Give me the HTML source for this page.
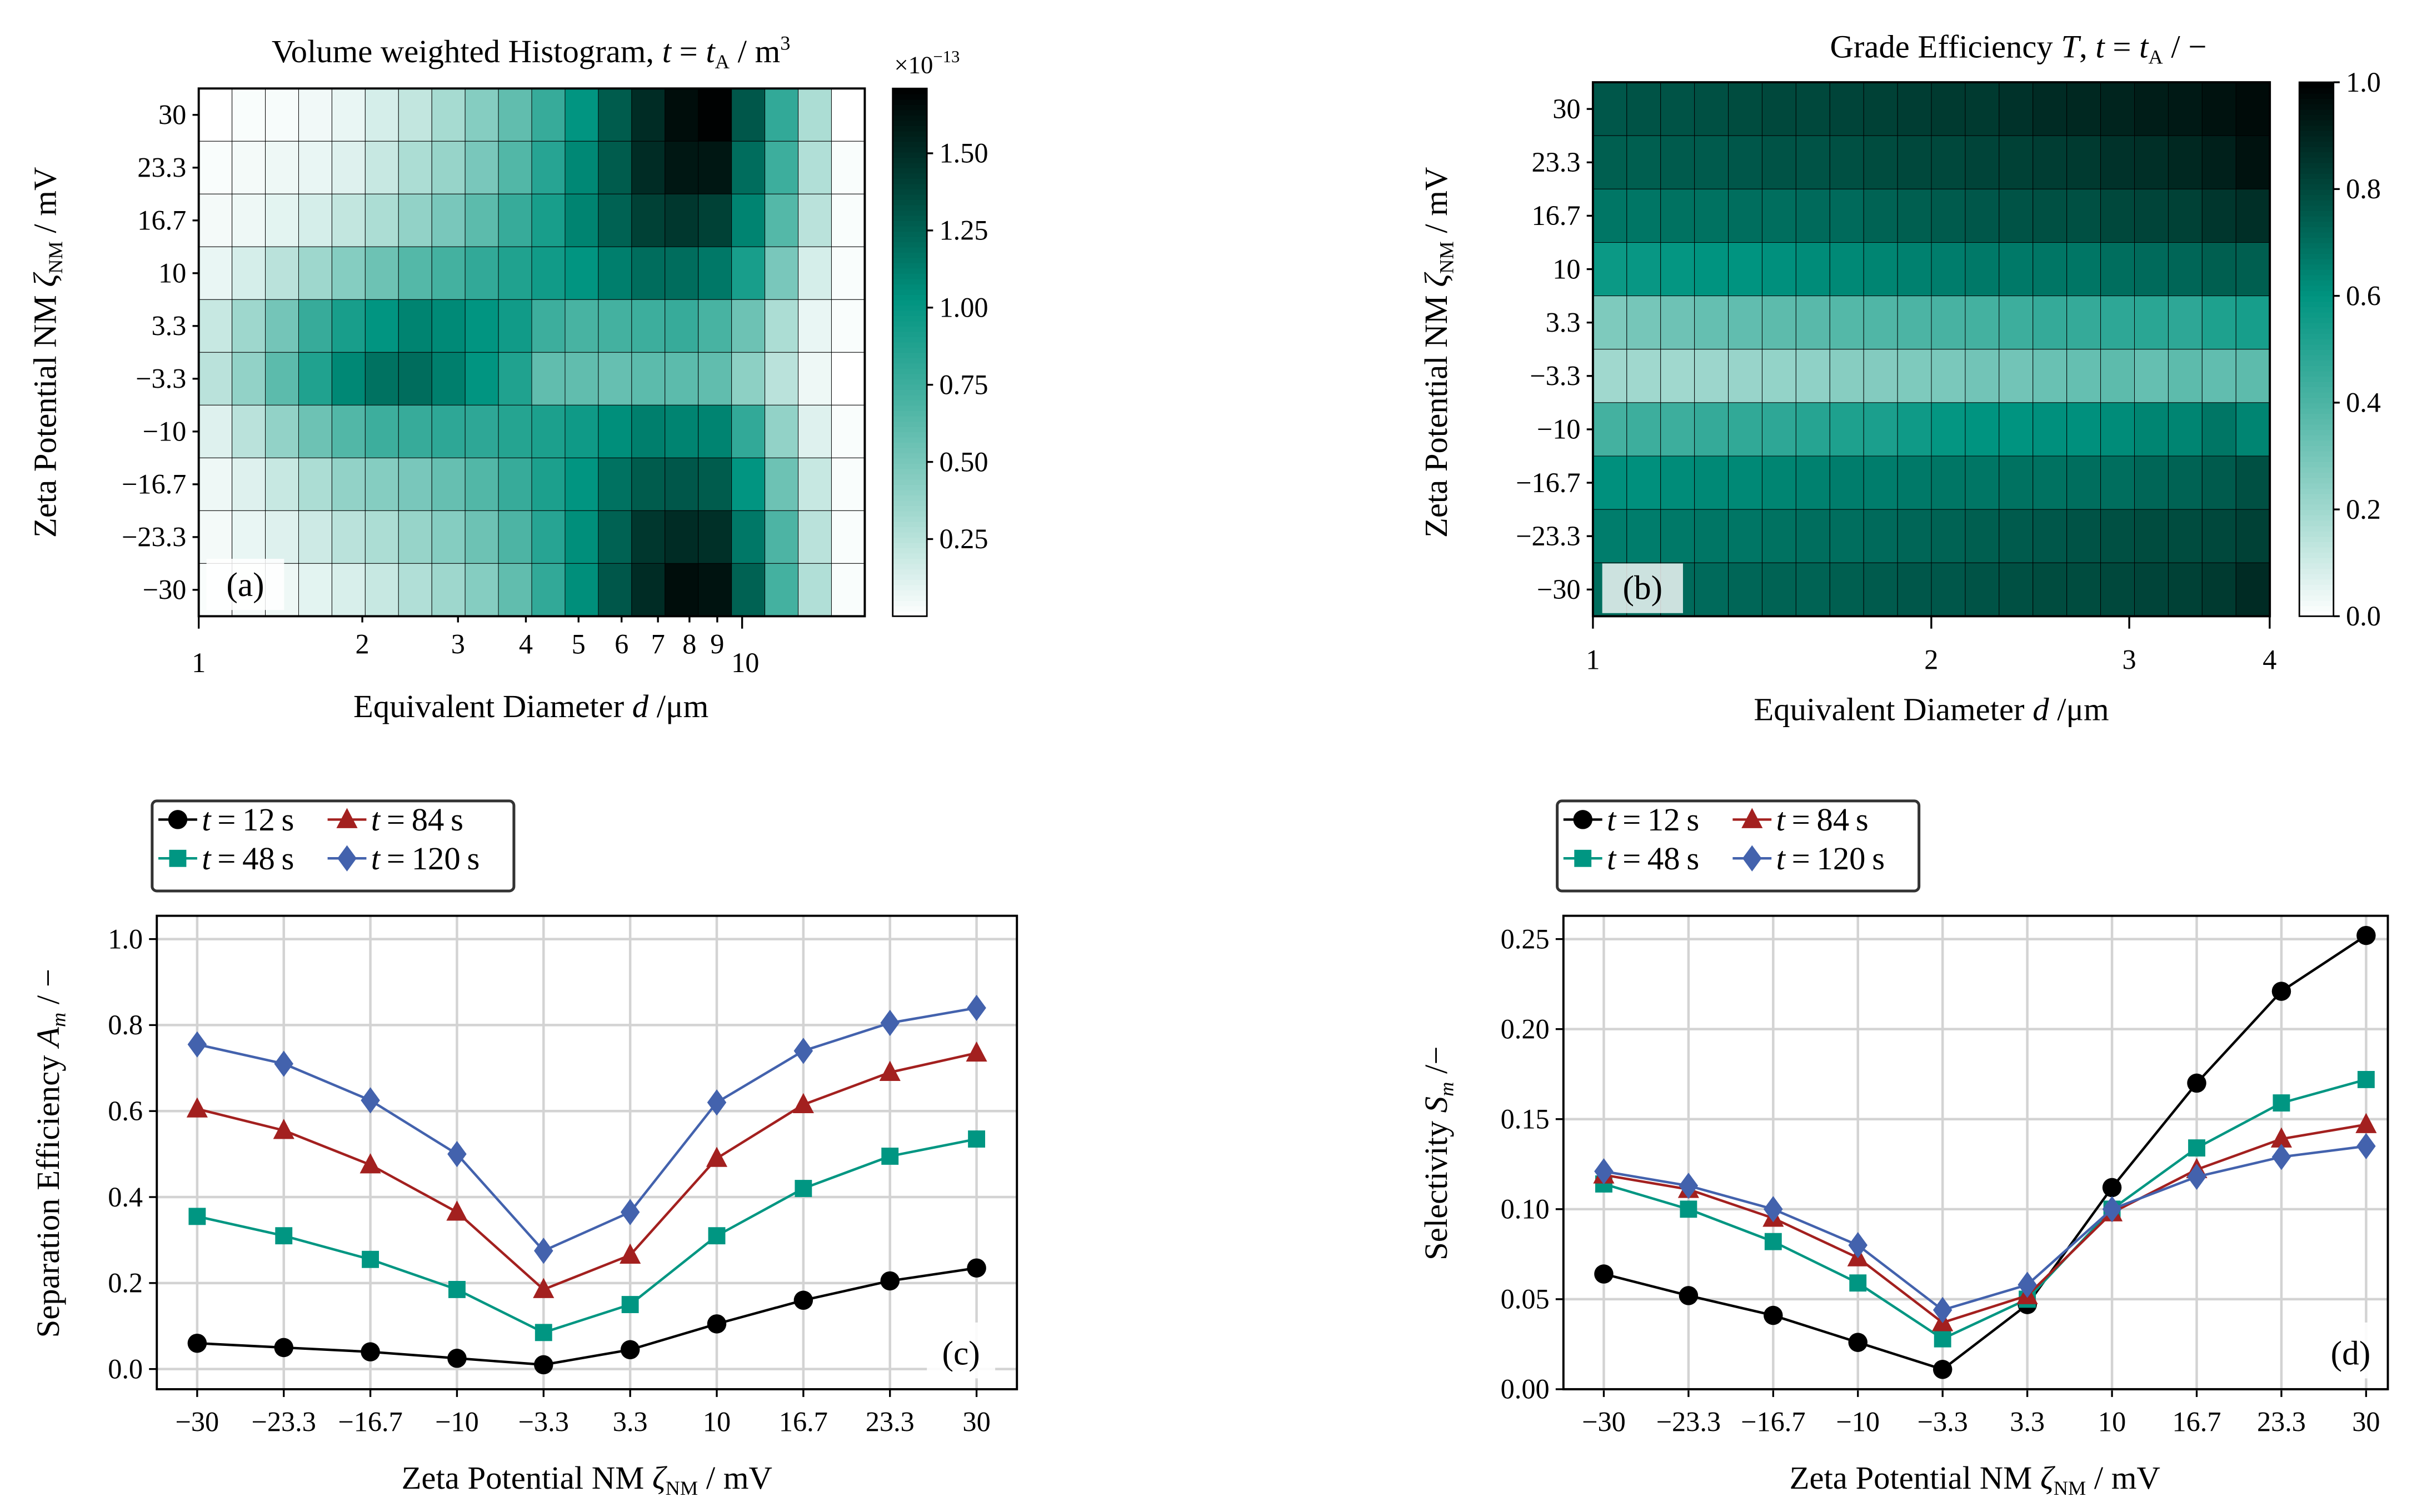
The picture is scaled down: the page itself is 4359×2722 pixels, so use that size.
<!DOCTYPE html>
<html><head><meta charset="utf-8"><style>
html,body{margin:0;padding:0;background:#fff;}
svg{display:block;font-family:"Liberation Serif",serif;}
</style></head><body>
<svg id="fig" xmlns="http://www.w3.org/2000/svg" width="4359" height="2722" viewBox="0 0 1560 974.1" preserveAspectRatio="none"></svg>
<script>
// ---------- DATA ----------
const zetaLabels = ["30","23.3","16.7","10","3.3","\u22123.3","\u221210","\u221216.7","\u221223.3","\u221230"];
const histA = [
[0,0.02,0.03,0.05,0.08,0.15,0.22,0.32,0.45,0.6,0.78,1.02,1.28,1.5,1.65,1.7,1.3,0.8,0.3,0],
[0.02,0.04,0.06,0.08,0.12,0.2,0.3,0.38,0.5,0.66,0.85,1.08,1.28,1.5,1.6,1.6,1.2,0.75,0.28,0.02],
[0.04,0.06,0.1,0.15,0.22,0.3,0.4,0.5,0.62,0.78,0.92,1.1,1.25,1.4,1.45,1.4,1.1,0.65,0.25,0.02],
[0.08,0.15,0.25,0.35,0.45,0.55,0.65,0.72,0.8,0.88,0.95,1.02,1.12,1.2,1.2,1.15,0.92,0.5,0.15,0.02],
[0.2,0.35,0.52,0.78,0.92,1.02,1.1,1.07,1.02,0.95,0.75,0.7,0.72,0.75,0.78,0.7,0.55,0.3,0.08,0.02],
[0.25,0.4,0.62,0.88,1.08,1.18,1.2,1.12,1.02,0.88,0.6,0.6,0.58,0.62,0.62,0.6,0.42,0.25,0.06,0],
[0.12,0.25,0.4,0.55,0.66,0.75,0.78,0.82,0.82,0.86,0.9,0.96,1.05,1.12,1.1,1.1,0.8,0.4,0.12,0.02],
[0.06,0.12,0.2,0.3,0.4,0.45,0.5,0.58,0.66,0.78,0.9,1.02,1.18,1.28,1.3,1.28,1.02,0.55,0.2,0.02],
[0.04,0.08,0.12,0.18,0.25,0.3,0.38,0.45,0.55,0.68,0.85,1.05,1.25,1.45,1.5,1.48,1.15,0.68,0.25,0.02],
[0.02,0.04,0.06,0.1,0.14,0.2,0.28,0.35,0.45,0.6,0.8,1.05,1.3,1.5,1.65,1.62,1.25,0.72,0.28,0.02]];
const gradeB = [
[0.76,0.77,0.77,0.78,0.79,0.8,0.8,0.81,0.82,0.83,0.84,0.84,0.86,0.88,0.89,0.9,0.92,0.93,0.95,0.97],
[0.74,0.74,0.75,0.75,0.76,0.77,0.77,0.78,0.79,0.8,0.8,0.81,0.82,0.83,0.84,0.86,0.87,0.89,0.91,0.95],
[0.68,0.68,0.69,0.69,0.7,0.7,0.71,0.71,0.73,0.74,0.75,0.76,0.77,0.78,0.78,0.8,0.81,0.82,0.85,0.87],
[0.57,0.58,0.59,0.6,0.6,0.61,0.62,0.63,0.64,0.65,0.66,0.67,0.67,0.68,0.68,0.7,0.71,0.72,0.74,0.74],
[0.28,0.3,0.32,0.34,0.35,0.36,0.37,0.38,0.39,0.4,0.41,0.42,0.44,0.46,0.46,0.48,0.49,0.48,0.52,0.54],
[0.2,0.2,0.2,0.21,0.22,0.23,0.24,0.26,0.27,0.28,0.29,0.31,0.31,0.33,0.34,0.36,0.34,0.36,0.35,0.36],
[0.42,0.44,0.44,0.46,0.47,0.48,0.5,0.52,0.53,0.56,0.59,0.6,0.6,0.61,0.61,0.62,0.64,0.64,0.68,0.64],
[0.61,0.61,0.62,0.63,0.63,0.64,0.65,0.66,0.66,0.67,0.68,0.68,0.69,0.69,0.7,0.7,0.72,0.73,0.75,0.78],
[0.66,0.66,0.67,0.68,0.68,0.69,0.7,0.7,0.71,0.72,0.73,0.74,0.75,0.76,0.77,0.78,0.79,0.79,0.8,0.82],
[0.7,0.7,0.71,0.71,0.72,0.73,0.73,0.74,0.75,0.76,0.76,0.77,0.78,0.79,0.79,0.8,0.81,0.82,0.84,0.88]];
const cbTicksA = [0.25,0.5,0.75,1.0,1.25,1.5];
const cbTicksB = [0,0.2,0.4,0.6,0.8,1.0];
const xCats = ["\u221230","\u221223.3","\u221216.7","\u221210","\u22123.3","3.3","10","16.7","23.3","30"];
const sepT12 = [0.06,0.05,0.04,0.025,0.01,0.045,0.105,0.16,0.205,0.235];
const sepT48 = [0.355,0.31,0.255,0.185,0.085,0.15,0.31,0.42,0.495,0.535];
const sepT84 = [0.605,0.555,0.475,0.365,0.185,0.265,0.49,0.615,0.69,0.735];
const sepT120 = [0.755,0.71,0.625,0.5,0.275,0.365,0.62,0.74,0.805,0.84];
const selT12 = [0.064,0.052,0.041,0.026,0.011,0.047,0.112,0.17,0.221,0.252];
const selT48 = [0.114,0.1,0.082,0.059,0.028,0.05,0.1,0.134,0.159,0.172];
const selT84 = [0.119,0.111,0.095,0.073,0.037,0.052,0.098,0.122,0.139,0.147];
const selT120 = [0.121,0.113,0.1,0.08,0.044,0.058,0.1,0.118,0.129,0.135];
const sepTicks = [0,0.2,0.4,0.6,0.8,1.0];
const selTicks = [0,0.05,0.1,0.15,0.2,0.25];

// ---------- HELPERS ----------
const NS="http://www.w3.org/2000/svg", svg=document.getElementById('fig');
function el(tag,attrs,parent,text){const e=document.createElementNS(NS,tag);for(const k in attrs)e.setAttribute(k,attrs[k]);if(text!==undefined)e.textContent=text;(parent||svg).appendChild(e);return e;}
const stops=[[0,[255,255,255]],[0.2,[160,216,206]],[0.4,[76,180,164]],[0.6,[0,148,128]],[0.8,[0,72,60]],[1,[0,0,0]]];
function cmap(t){t=Math.max(0,Math.min(1,t));for(let i=1;i<stops.length;i++){if(t<=stops[i][0]){const a=stops[i-1],b=stops[i],f=(t-a[0])/(b[0]-a[0]);return 'rgb('+a[1].map((c,j)=>Math.round(c+(b[1][j]-c)*f)).join(',')+')';}}return 'rgb(0,0,0)';}
function txt(x,y,s,size,anchor,parent,name){const t=el('text',{x:x,y:y,'font-size':size,'text-anchor':anchor||'middle'},parent,s);return t;}

function heatmap(data,vmax,L,R,T,B,name){
  const g=el('g',{});
  const nr=data.length,nc=data[0].length,cw=(R-L)/nc,rh=(B-T)/nr;
  data.forEach((row,i)=>row.forEach((v,j)=>{
    const r=el('rect',{x:L+j*cw,y:T+i*rh,width:cw,height:rh,fill:cmap(v/vmax),stroke:'#000','stroke-width':0.35},g);
    
    
  }));
  el('rect',{x:L,y:T,width:R-L,height:B-T,fill:'none',stroke:'#000','stroke-width':1.4},g);
  zetaLabels.forEach((s,i)=>{const y=T+(i+0.5)*rh;el('line',{x1:L-4,x2:L,y1:y,y2:y,stroke:'#000','stroke-width':1.2},g);txt(L-8,y+6,s,18,'end',g,'y-tick-label');});
  return g;
}
function colorbar(L,T,W,H,vmax,ticks,fmt,name){
  const g=el('g',{});
  const n=100;for(let i=0;i<n;i++){el('rect',{x:L,y:T+H-(i+1)*H/n,width:W,height:H/n+0.4,fill:cmap((i+0.5)/n)},g);}
  el('rect',{x:L,y:T,width:W,height:H,fill:'none',stroke:'#000','stroke-width':1},g);
  ticks.forEach(v=>{const y=T+H-v/vmax*H;el('line',{x1:L+W,x2:L+W+4,y1:y,y2:y,stroke:'#000','stroke-width':1.2},g);txt(L+W+8,y+6,fmt(v),18,'start',g,'colorbar-tick-label');});
}
function panelLabel(x,y,w,h,s,op,name){const r=el('rect',{x:x,y:y,width:w,height:h,fill:'#fff','fill-opacity':op});txt(x+w/2,y+h-9,s,22,'middle',svg,name);}

// ---------- PANEL A ----------
heatmap(histA,1.71,128,557,57,397,'heatmap-a');
{const L=128,dec=350;const g=el('g',{});
 [1,2,3,4,5,6,7,8,9,10].forEach(v=>{const x=L+Math.log10(v)*dec;const maj=(v==1||v==10);el('line',{x1:x,x2:x,y1:397,y2:397+(maj?8:4),stroke:'#000','stroke-width':1.2},g);txt(x+(v==10?2:0),maj?433:421,String(v),18,'middle',g,'x-tick-label');});}
colorbar(575,57,22,340,1.71,cbTicksA,v=>v.toFixed(2),'colorbar-a');
txt(576,47,'\u00d710',16,'start',svg,'colorbar-exponent');txt(601,40,'\u221213',11,'start',svg,'colorbar-exponent-power');
{const t=txt(342,40,'',21,'middle',svg,'title-a');t.innerHTML='Volume weighted Histogram, <tspan font-style="italic">t</tspan> = <tspan font-style="italic">t</tspan><tspan font-size="13" dy="4">A</tspan><tspan dy="-4"> / m</tspan><tspan font-size="13" dy="-8">3</tspan>';}
{const t=txt(342,462,'',21,'middle',svg,'x-axis-title-a');t.innerHTML='Equivalent Diameter <tspan font-style="italic">d</tspan> /μm';}
{const t=txt(0,0,'',21,'middle',svg,'y-axis-title-a');t.setAttribute('transform','translate(36,227) rotate(-90)');t.innerHTML='Zeta Potential NM <tspan font-style="italic">ζ</tspan><tspan font-size="13" dy="4">NM</tspan><tspan dy="-4"> / mV</tspan>';}
panelLabel(133,360,50,33,'(a)',0.85,'panel-label-a');

// ---------- PANEL B ----------
heatmap(gradeB,1.0,1026,1462,53,397,'heatmap-b');
{const L=1026,dec=724;const g=el('g',{});
 [1,2,3,4].forEach(v=>{const x=L+Math.log10(v)*dec;el('line',{x1:x,x2:x,y1:397,y2:405,stroke:'#000','stroke-width':1.2},g);txt(x,431,String(v),18,'middle',g,'x-tick-label');});}
colorbar(1481,53,22,344,1.0,cbTicksB,v=>v.toFixed(1),'colorbar-b');
{const t=txt(1300,37,'',21,'middle',svg,'title-b');t.innerHTML='Grade Efficiency <tspan font-style="italic">T</tspan>, <tspan font-style="italic">t</tspan> = <tspan font-style="italic">t</tspan><tspan font-size="13" dy="4">A</tspan><tspan dy="-4"> / −</tspan>';}
{const t=txt(1244,464,'',21,'middle',svg,'x-axis-title-b');t.innerHTML='Equivalent Diameter <tspan font-style="italic">d</tspan> /μm';}
{const t=txt(0,0,'',21,'middle',svg,'y-axis-title-b');t.setAttribute('transform','translate(932,227) rotate(-90)');t.innerHTML='Zeta Potential NM <tspan font-style="italic">ζ</tspan><tspan font-size="13" dy="4">NM</tspan><tspan dy="-4"> / mV</tspan>';}
panelLabel(1032,363,52,32,'(b)',0.8,'panel-label-b');

// ---------- LINE PANELS ----------
const seriesStyle=[{c:'#000000',m:'circle',n:'12'},{c:'#009682',m:'square',n:'48'},{c:'#a3201f',m:'triangle',n:'84'},{c:'#4362ad',m:'diamond',n:'120'}];
function marker(g,type,x,y,c,s){
  let e;
  if(type=='circle')e=el('circle',{cx:x,cy:y,r:s*0.95,fill:c},g);
  else if(type=='square')e=el('rect',{x:x-s*0.85,y:y-s*0.85,width:s*1.7,height:s*1.7,fill:c},g);
  else if(type=='triangle')e=el('polygon',{points:`${x},${y-s*1.15} ${x+s*1.05},${y+s*0.85} ${x-s*1.05},${y+s*0.85}`,fill:c},g);
  else e=el('polygon',{points:`${x},${y-s*1.3} ${x+s*0.95},${y} ${x},${y+s*1.3} ${x-s*0.95},${y}`,fill:c},g);
  
  
}
function linePanel(o){
  const {L,R,T,B,x0,x1,y0px,y1px,ymin,ymax,ticks,fmt,series,name}=o;
  const xs=i=>x0+(x1-x0)*i/(xCats.length-1), ys=v=>y0px+(v-ymin)/(ymax-ymin)*(y1px-y0px);
  const g=el('g',{});
  xCats.forEach((s,i)=>{const x=xs(i);el('line',{x1:x,x2:x,y1:T,y2:B,stroke:'#d3d3d3','stroke-width':1.6},g);el('line',{x1:x,x2:x,y1:B,y2:B+5,stroke:'#000','stroke-width':1.2},g);txt(x,B+27,s,18,'middle',g,'x-tick-label');});
  ticks.forEach(v=>{const y=ys(v);el('line',{x1:L,x2:R,y1:y,y2:y,stroke:'#d3d3d3','stroke-width':1.6},g);el('line',{x1:L-5,x2:L,y1:y,y2:y,stroke:'#000','stroke-width':1.2},g);txt(L-9,y+6,fmt(v),18,'end',g,'y-tick-label');});
  series.forEach((d,k)=>{const st=seriesStyle[k];const sg=el('g',{},g);
    const pl=el('polyline',{points:d.map((v,i)=>xs(i)+','+ys(v)).join(' '),fill:'none',stroke:st.c,'stroke-width':1.6},sg);
    d.forEach((v,i)=>marker(sg,st.m,xs(i),ys(v),st.c,6.5));});
  el('rect',{x:L,y:T,width:R-L,height:B-T,fill:'none',stroke:'#000','stroke-width':1.4},g);
  return g;
}
function legend(x,y,name){
  const g=el('g',{});
  el('rect',{x:x,y:y,width:233,height:58,rx:3,fill:'#fff',stroke:'#333','stroke-width':1.8},g);
  const pos=[[x+4,y+15],[x+4,y+40],[x+113,y+15],[x+113,y+40]];
  seriesStyle.forEach((st,k)=>{const [px,py]=pos[k];
    const eg=el('g',{},g);
    el('line',{x1:px,x2:px+25,y1:py-3,y2:py-3,stroke:st.c,'stroke-width':1.6},eg);marker(eg,st.m,px+12.5,py-3,st.c,6.5);
    const t=txt(px+28,py+4,'',21,'start',eg,'legend-label');t.innerHTML='<tspan font-style="italic">t</tspan>\u2009=\u2009'+st.n+'\u2009s';});
}
linePanel({L:101,R:655,T:590,B:895,x0:127,x1:629,y0px:882,y1px:605,ymin:0,ymax:1,ticks:sepTicks,fmt:v=>v.toFixed(1),series:[sepT12,sepT48,sepT84,sepT120],name:'chart-c'});
legend(98,516,'legend-c');
{const t=txt(378,959,'',21,'middle',svg,'x-axis-title-c');t.innerHTML='Zeta Potential NM <tspan font-style="italic">ζ</tspan><tspan font-size="13" dy="4">NM</tspan><tspan dy="-4"> / mV</tspan>';}
{const t=txt(0,0,'',21,'middle',svg,'y-axis-title-c');t.setAttribute('transform','translate(38,743) rotate(-90)');t.innerHTML='Separation Efficiency <tspan font-style="italic">A</tspan><tspan font-size="13" dy="4" font-style="italic">m</tspan><tspan dy="-4"> / −</tspan>';}
panelLabel(597,852,44,36,'(c)',0.9,'panel-label-c');

linePanel({L:1007,R:1538,T:590,B:895,x0:1033,x1:1524,y0px:895,y1px:605,ymin:0,ymax:0.25,ticks:selTicks,fmt:v=>v.toFixed(2),series:[selT12,selT48,selT84,selT120],name:'chart-d'});
legend(1003,516,'legend-d');
{const t=txt(1272,959,'',21,'middle',svg,'x-axis-title-d');t.innerHTML='Zeta Potential NM <tspan font-style="italic">ζ</tspan><tspan font-size="13" dy="4">NM</tspan><tspan dy="-4"> / mV</tspan>';}
{const t=txt(0,0,'',21,'middle',svg,'y-axis-title-d');t.setAttribute('transform','translate(932,743) rotate(-90)');t.innerHTML='Selectivity <tspan font-style="italic">S</tspan><tspan font-size="13" dy="4" font-style="italic">m</tspan><tspan dy="-4"> /−</tspan>';}
panelLabel(1492,852,44,36,'(d)',0.9,'panel-label-d');
</script>
</body></html>
